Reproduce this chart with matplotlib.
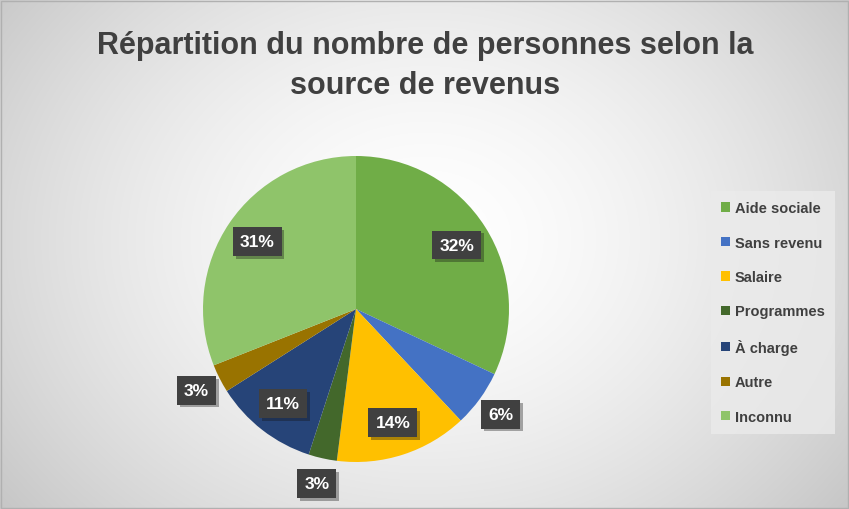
import numpy as np
import matplotlib
matplotlib.use("Agg")
import matplotlib.pyplot as plt
import matplotlib.patheffects as pe
from matplotlib.patches import Patch, Rectangle
from matplotlib import font_manager

# Données
categories = ["Aide sociale", "Sans revenu", "Salaire", "Programmes", "À charge", "Autre", "Inconnu"]
valeurs = [32, 6, 14, 3, 11, 3, 31]
etiquettes = ["32%", "6%", "14%", "3%", "11%", "3%", "31%"]
couleurs = ["#70AD47", "#4472C4", "#FFC000", "#43682B", "#264478", "#997300", "#8FC46A"]
titre = "Répartition du nombre de personnes selon la\nsource de revenus"

noms = {f.name for f in font_manager.fontManager.ttflist}
police = "Liberation Sans Narrow" if "Liberation Sans Narrow" in noms else "Liberation Sans"
plt.rcParams["font.family"] = [police, "DejaVu Sans"]

W, H = 849, 510
fig = plt.figure(figsize=(W / 100, H / 100), dpi=100)

# Fond en dégradé radial
bg = fig.add_axes([0, 0, 1, 1])
yy, xx = np.mgrid[0:H, 0:W]
d = np.sqrt(((xx - 425) / 520) ** 2 + ((yy - 240) / 420) ** 2)
g = 1.0 - 0.21 * np.clip(d, 0, 1.2) ** 1.6
bg.imshow(np.dstack([g, g, g]), extent=[0, W, H, 0], aspect="auto")
bg.set_xlim(0, W)
bg.set_ylim(H, 0)
bg.axis("off")
bg.add_patch(Rectangle((0.5, 2), W - 1.5, H - 3, fill=False, edgecolor="#b0b0b0", linewidth=1))

# Titre
fig.text(425 / W, 1 - 66 / H, titre, ha="center", va="center", fontsize=22, fontweight="bold",
         color="#404040", linespacing=1.4)

# Camembert : centre (356, 310), rayon 153 px
R = 153
lim = 1.4
ax = fig.add_axes([(356 - R * lim) / W, (H - 310 - R * lim) / H, 2 * R * lim / W, 2 * R * lim / H])
wedges, _ = ax.pie(valeurs, colors=couleurs, startangle=90, counterclock=False, radius=1)
ax.set_xlim(-lim, lim)
ax.set_ylim(-lim, lim)
ax.set_aspect("equal")
ax.axis("off")

for w, lab, v in zip(wedges, etiquettes, valeurs):
    theta = np.deg2rad((w.theta1 + w.theta2) / 2)
    r = 0.78 if v > 8 else 1.17
    t = ax.text(r * np.cos(theta), r * np.sin(theta), lab, ha="center", va="center",
                fontsize=12.5, fontweight="bold", color="white",
                bbox=dict(boxstyle="square,pad=0.4", facecolor="#404040", edgecolor="none"))
    t.get_bbox_patch().set_path_effects([pe.SimplePatchShadow(offset=(2, -2), alpha=0.35), pe.Normal()])

# Légende
handles = [Patch(facecolor=c, edgecolor="none") for c in couleurs]
leg = fig.legend(handles, categories, loc="upper left", bbox_to_anchor=(711 / W, 1 - 192 / H),
                 frameon=True, fancybox=False, prop=dict(size=10.5, weight="bold"), labelspacing=1.4,
                 handlelength=0.6, handleheight=0.6, handletextpad=0.35, borderpad=0.7,
                 borderaxespad=0)
leg.get_frame().set_facecolor("#ebebeb")
leg.get_frame().set_edgecolor("none")
for t in leg.get_texts():
    t.set_color("#404040")

fig.savefig("out.png", dpi=100)
